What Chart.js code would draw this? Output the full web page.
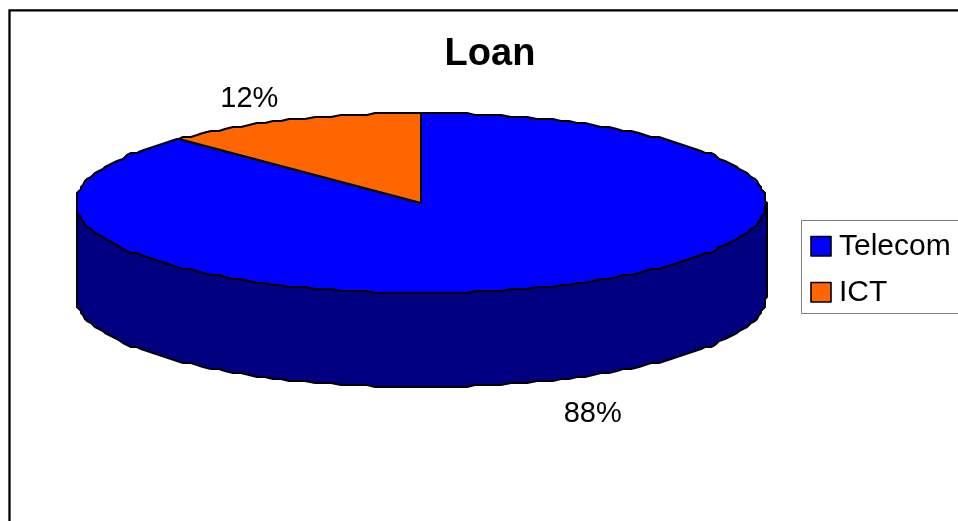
<!DOCTYPE html>
<html>
<head>
<meta charset="utf-8">
<style>
  html, body { margin: 0; padding: 0; background: #fff; }
  #wrap { width: 958px; height: 521px; }
</style>
<script src="https://cdn.jsdelivr.net/npm/chart.js@4"></script>
</head>
<body>
<div id="wrap"><canvas id="chart" width="958" height="521"></canvas></div>
<script>
const categories = ['Telecom', 'ICT'];
const shareValues = [87.6, 12.4];
const topColors = ['#0000ff', '#ff6600'];
const sideColors = ['#000080', '#803300'];

const FONT = '"Liberation Sans", Arial, sans-serif';

// the pie is squashed to an ellipse, so it has its own centre
const CX = 421;
const CY = 203;
const SQUASH = 90 / 345;
const DEPTH = 94;
const GRID = 2; // original outline is coarse, snap points to get the same wobble
const STEP = Math.PI / 120;

function pt(angle, r, drop) {
  const x = r * Math.cos(angle);
  const y = r * SQUASH * Math.sin(angle);
  return [
    CX + Math.round(x / GRID) * GRID,
    CY + drop + Math.round(y / GRID) * GRID,
  ];
}

function rim(a0, a1, r, drop) {
  const pts = [pt(a0, r, drop)];
  const dir = a1 > a0 ? 1 : -1;
  let k = dir > 0 ? Math.ceil(a0 / STEP + 1e-6) : Math.floor(a0 / STEP - 1e-6);
  while (dir > 0 ? k * STEP < a1 : k * STEP > a1) {
    pts.push(pt(k * STEP, r, drop));
    k += dir;
  }
  pts.push(pt(a1, r, drop));
  return pts;
}

function fillPoly(ctx, pts, color) {
  ctx.beginPath();
  pts.forEach((p, i) => (i ? ctx.lineTo(p[0], p[1]) : ctx.moveTo(p[0], p[1])));
  ctx.closePath();
  ctx.fillStyle = color;
  ctx.fill();
  ctx.stroke();
}

const piePlugin = {
  id: 'pie3d',
  beforeDraw(chart) {
    const { ctx, width, height } = chart;
    ctx.save();
    ctx.fillStyle = '#fff';
    ctx.fillRect(0, 0, width, height);
    ctx.strokeStyle = '#000';
    ctx.lineWidth = 2.3;
    ctx.beginPath();
    ctx.moveTo(9.5, height);
    ctx.lineTo(9.5, 10.3);
    ctx.lineTo(width, 10.3);
    ctx.stroke();
    ctx.restore();
  },
  beforeDatasetsDraw(chart) {
    const { ctx } = chart;
    const arcs = chart.getDatasetMeta(0).data;
    ctx.save();
    ctx.strokeStyle = '#000';
    ctx.lineWidth = 2;
    ctx.lineJoin = 'round';

    // side wall, front half only
    arcs.forEach((arc, i) => {
      const a0 = Math.max(arc.startAngle, 0);
      const a1 = Math.min(arc.endAngle, Math.PI);
      if (a0 >= a1) return;
      const r = arc.outerRadius;
      const wall = rim(a0, a1, r, 0).concat(rim(a1, a0, r, DEPTH));
      fillPoly(ctx, wall, sideColors[i]);
    });

    // top face
    arcs.forEach((arc) => {
      const slice = [[CX, CY]].concat(rim(arc.startAngle, arc.endAngle, arc.outerRadius, 0));
      fillPoly(ctx, slice, arc.options.backgroundColor);
    });

    // percent labels
    const total = shareValues.reduce((a, b) => a + b, 0);
    ctx.fillStyle = '#000';
    ctx.font = '29px ' + FONT;
    ctx.textAlign = 'center';
    ctx.textBaseline = 'middle';
    arcs.forEach((arc, i) => {
      const mid = (arc.startAngle + arc.endAngle) / 2;
      const cos = Math.cos(mid);
      const sin = Math.sin(mid);
      const r = arc.outerRadius;
      const front = sin > 0;
      const x = CX + r * cos + 107 * cos;
      const y = CY + r * SQUASH * sin + (front ? DEPTH + 37 * sin : 22 * sin);
      ctx.fillText(Math.round((shareValues[i] / total) * 100) + '%', x, y);
    });

    // legend
    ctx.strokeStyle = '#808080';
    ctx.lineWidth = 1;
    ctx.strokeRect(801.5, 220.5, 170, 93);
    ctx.textAlign = 'left';
    ctx.textBaseline = 'alphabetic';
    ctx.font = '30px ' + FONT;
    categories.forEach((name, i) => {
      const top = 236.5 + i * 46;
      ctx.fillStyle = arcs[i].options.backgroundColor;
      ctx.fillRect(811, top, 20, 19.5);
      ctx.strokeStyle = '#000';
      ctx.lineWidth = 1.6;
      ctx.strokeRect(811, top, 20, 19.5);
      ctx.fillStyle = '#000';
      ctx.fillText(name, 839, 255 + i * 46);
    });
    ctx.restore();
    return false;
  },
};

new Chart(document.getElementById('chart'), {
  type: 'pie',
  data: {
    labels: categories,
    datasets: [{
      data: shareValues,
      backgroundColor: topColors,
      radius: 345,
    }],
  },
  options: {
    responsive: false,
    animation: false,
    layout: { padding: { left: 22 } },
    plugins: {
      legend: { display: false },
      tooltip: { enabled: false },
      title: {
        display: true,
        text: 'Loan',
        color: '#000',
        font: { family: FONT, size: 38, weight: 'bold' },
        padding: { top: 32, bottom: 4 },
      },
    },
  },
  plugins: [piePlugin],
});
</script>
</body>
</html>
